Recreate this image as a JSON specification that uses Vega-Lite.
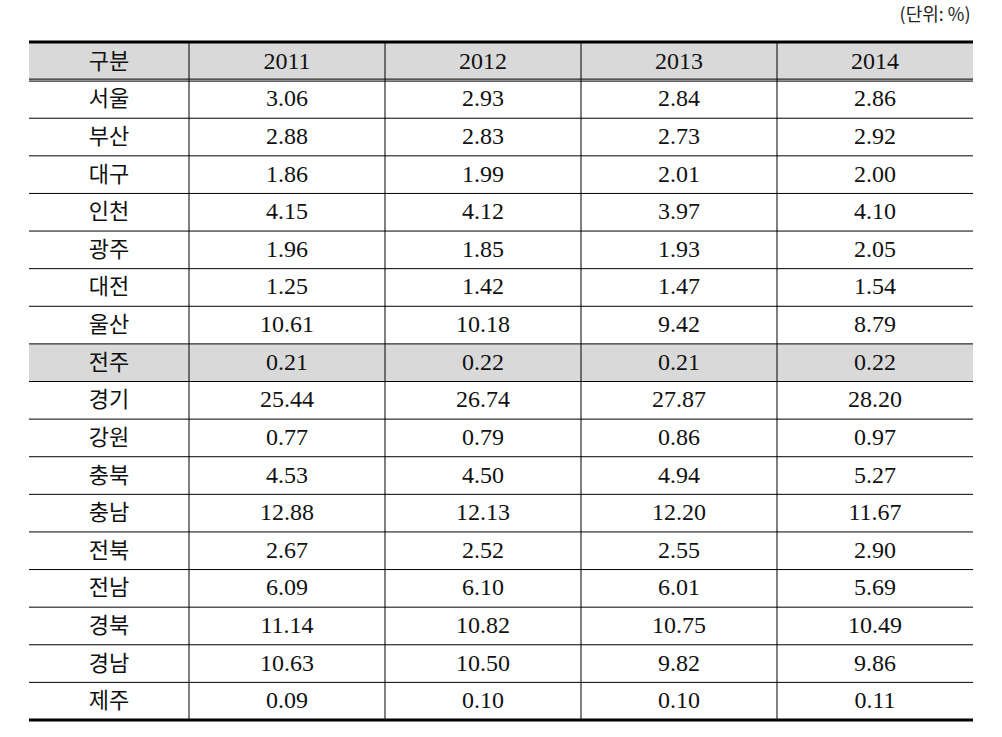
{
  "$schema": "https://vega.github.io/schema/vega-lite/v6.json",
  "padding": {"left": 27, "top": 6, "right": 31, "bottom": 18},
  "spacing": 0,
  "bounds": "flush",
  "background": "white",
  "config": {"view": {"stroke": null}},
  "title": {"text": "(단위: %)", "anchor": "end", "orient": "top", "baseline": "bottom", "offset": -2, "dx": -4, "font": "Noto Sans CJK KR", "fontSize": 18, "fontWeight": "normal", "color": "#222222"},
  "datasets": {
    "table": [
      {"region": "서울", "2011": 3.06, "2012": 2.93, "2013": 2.84, "2014": 2.86},
      {"region": "부산", "2011": 2.88, "2012": 2.83, "2013": 2.73, "2014": 2.92},
      {"region": "대구", "2011": 1.86, "2012": 1.99, "2013": 2.01, "2014": 2.00},
      {"region": "인천", "2011": 4.15, "2012": 4.12, "2013": 3.97, "2014": 4.10},
      {"region": "광주", "2011": 1.96, "2012": 1.85, "2013": 1.93, "2014": 2.05},
      {"region": "대전", "2011": 1.25, "2012": 1.42, "2013": 1.47, "2014": 1.54},
      {"region": "울산", "2011": 10.61, "2012": 10.18, "2013": 9.42, "2014": 8.79},
      {"region": "전주", "2011": 0.21, "2012": 0.22, "2013": 0.21, "2014": 0.22},
      {"region": "경기", "2011": 25.44, "2012": 26.74, "2013": 27.87, "2014": 28.20},
      {"region": "강원", "2011": 0.77, "2012": 0.79, "2013": 0.86, "2014": 0.97},
      {"region": "충북", "2011": 4.53, "2012": 4.50, "2013": 4.94, "2014": 5.27},
      {"region": "충남", "2011": 12.88, "2012": 12.13, "2013": 12.20, "2014": 11.67},
      {"region": "전북", "2011": 2.67, "2012": 2.52, "2013": 2.55, "2014": 2.90},
      {"region": "전남", "2011": 6.09, "2012": 6.10, "2013": 6.01, "2014": 5.69},
      {"region": "경북", "2011": 11.14, "2012": 10.82, "2013": 10.75, "2014": 10.49},
      {"region": "경남", "2011": 10.63, "2012": 10.50, "2013": 9.82, "2014": 9.86},
      {"region": "제주", "2011": 0.09, "2012": 0.10, "2013": 0.10, "2014": 0.11}
    ],
    "years": [{"year": "2011"}, {"year": "2012"}, {"year": "2013"}, {"year": "2014"}],
    "one": [{"k": 1}]
  },
  "hconcat": [
    {
      "width": 160,
      "height": 677,
      "layer": [
        {
          "data": {"name": "table"},
          "transform": [{"filter": "datum.region === '전주'"}],
          "mark": {"type": "rect", "color": "#d9d9d9"},
          "encoding": {"y": {"field": "region", "type": "nominal", "axis": null, "scale": {"domain": ["구분", "서울", "부산", "대구", "인천", "광주", "대전", "울산", "전주", "경기", "강원", "충북", "충남", "전북", "전남", "경북", "경남", "제주"], "paddingInner": 0, "paddingOuter": 0}}}
        },
        {
          "data": {"name": "one"},
          "mark": {"type": "rect", "color": "#d9d9d9"},
          "encoding": {"y": {"datum": "구분", "type": "nominal", "axis": null}}
        },
        {
          "data": {"name": "table"},
          "transform": [{"filter": "datum.region !== '서울'"}],
          "mark": {"type": "rule", "color": "#000000", "strokeWidth": 1},
          "encoding": {"y": {"field": "region", "type": "nominal", "axis": null, "bandPosition": 0}}
        },
        {
          "data": {"name": "one"},
          "mark": {"type": "rule", "color": "#000000", "strokeWidth": 1, "yOffset": -1.5},
          "encoding": {"y": {"datum": "서울", "type": "nominal", "axis": null, "bandPosition": 0}}
        },
        {
          "data": {"name": "one"},
          "mark": {"type": "rule", "color": "#000000", "strokeWidth": 1, "yOffset": 0.5},
          "encoding": {"y": {"datum": "서울", "type": "nominal", "axis": null, "bandPosition": 0}}
        },
        {
          "data": {"name": "one"},
          "mark": {"type": "rule", "color": "#000000", "strokeWidth": 3, "yOffset": -1},
          "encoding": {"y": {"datum": "구분", "type": "nominal", "axis": null, "bandPosition": 0}}
        },
        {
          "data": {"name": "one"},
          "mark": {"type": "rule", "color": "#000000", "strokeWidth": 3},
          "encoding": {"y": {"datum": "제주", "type": "nominal", "axis": null, "bandPosition": 1}}
        },
        {
          "data": {"name": "table"},
          "mark": {"type": "text", "font": "Noto Sans CJK KR", "fontSize": 22, "color": "#111111", "baseline": "middle", "align": "center"},
          "encoding": {
            "y": {"field": "region", "type": "nominal", "axis": null},
            "text": {"field": "region", "type": "nominal"}
          }
        },
        {
          "data": {"name": "one"},
          "mark": {"type": "text", "text": "구분", "font": "Noto Sans CJK KR", "fontSize": 22, "color": "#111111", "baseline": "middle", "align": "center"},
          "encoding": {"y": {"datum": "구분", "type": "nominal", "axis": null}}
        }
      ]
    },
    {
      "width": 784,
      "height": 677,
      "layer": [
        {
          "data": {"name": "table"},
          "transform": [{"filter": "datum.region === '전주'"}],
          "mark": {"type": "rect", "color": "#d9d9d9"},
          "encoding": {"y": {"field": "region", "type": "nominal", "axis": null, "scale": {"domain": ["구분", "서울", "부산", "대구", "인천", "광주", "대전", "울산", "전주", "경기", "강원", "충북", "충남", "전북", "전남", "경북", "경남", "제주"], "paddingInner": 0, "paddingOuter": 0}}}
        },
        {
          "data": {"name": "one"},
          "mark": {"type": "rect", "color": "#d9d9d9"},
          "encoding": {"y": {"datum": "구분", "type": "nominal", "axis": null}}
        },
        {
          "data": {"name": "table"},
          "transform": [{"filter": "datum.region !== '서울'"}],
          "mark": {"type": "rule", "color": "#000000", "strokeWidth": 1},
          "encoding": {"y": {"field": "region", "type": "nominal", "axis": null, "bandPosition": 0}}
        },
        {
          "data": {"name": "one"},
          "mark": {"type": "rule", "color": "#000000", "strokeWidth": 1, "yOffset": -1.5},
          "encoding": {"y": {"datum": "서울", "type": "nominal", "axis": null, "bandPosition": 0}}
        },
        {
          "data": {"name": "one"},
          "mark": {"type": "rule", "color": "#000000", "strokeWidth": 1, "yOffset": 0.5},
          "encoding": {"y": {"datum": "서울", "type": "nominal", "axis": null, "bandPosition": 0}}
        },
        {
          "data": {"name": "one"},
          "mark": {"type": "rule", "color": "#000000", "strokeWidth": 3, "yOffset": -1},
          "encoding": {"y": {"datum": "구분", "type": "nominal", "axis": null, "bandPosition": 0}}
        },
        {
          "data": {"name": "one"},
          "mark": {"type": "rule", "color": "#000000", "strokeWidth": 3},
          "encoding": {"y": {"datum": "제주", "type": "nominal", "axis": null, "bandPosition": 1}}
        },
        {
          "data": {"name": "years"},
          "mark": {"type": "rule", "color": "#000000", "strokeWidth": 1},
          "encoding": {"x": {"field": "year", "type": "nominal", "axis": null, "bandPosition": 0, "scale": {"domain": ["2011", "2012", "2013", "2014"], "paddingInner": 0, "paddingOuter": 0}}}
        },
        {
          "data": {"name": "table"},
          "transform": [{"fold": ["2011", "2012", "2013", "2014"], "as": ["year", "value"]}],
          "mark": {"type": "text", "font": "Liberation Serif, serif", "fontSize": 24, "color": "#111111", "baseline": "middle", "align": "center"},
          "encoding": {
            "x": {"field": "year", "type": "nominal", "axis": null},
            "y": {"field": "region", "type": "nominal", "axis": null},
            "text": {"field": "value", "type": "quantitative", "format": ".2f"}
          }
        },
        {
          "data": {"name": "years"},
          "mark": {"type": "text", "font": "Liberation Serif, serif", "fontSize": 24, "color": "#111111", "baseline": "middle", "align": "center"},
          "encoding": {
            "x": {"field": "year", "type": "nominal", "axis": null},
            "y": {"datum": "구분", "type": "nominal", "axis": null},
            "text": {"field": "year", "type": "nominal"}
          }
        }
      ]
    }
  ]
}
